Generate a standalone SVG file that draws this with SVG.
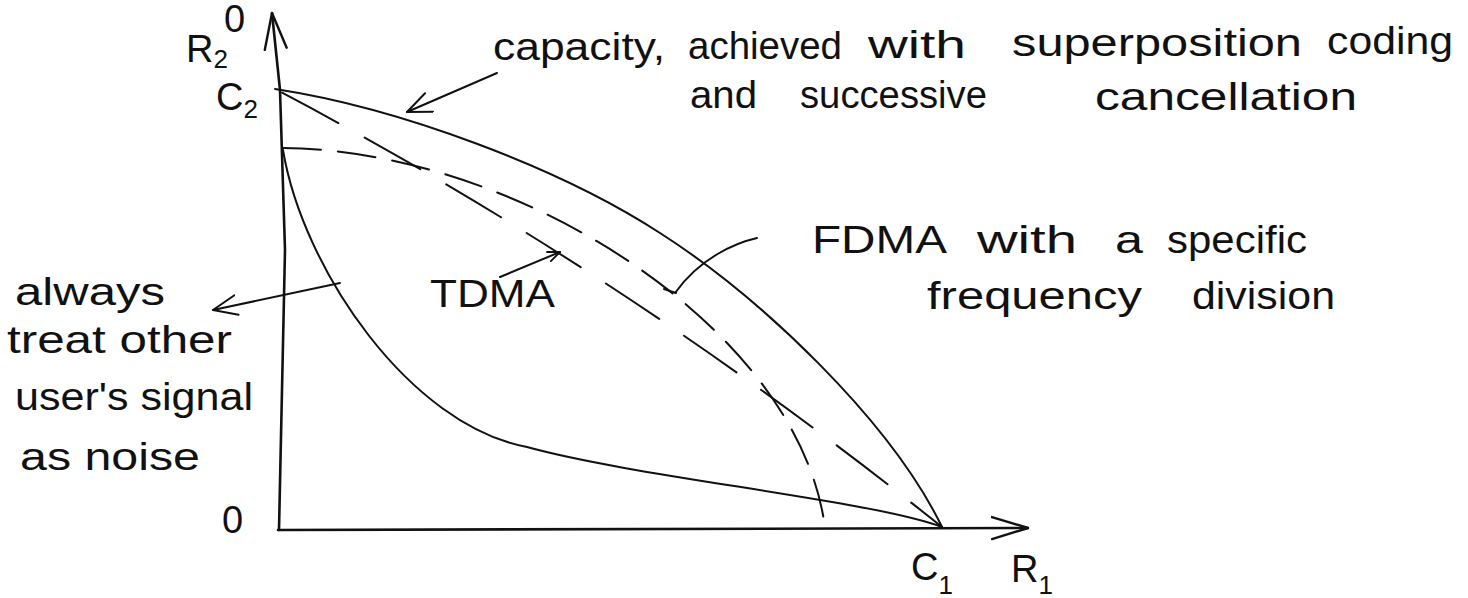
<svg xmlns="http://www.w3.org/2000/svg" width="1468" height="598" viewBox="0 0 1468 598">
<style>
.ln{fill:none;stroke:#111;stroke-width:2;stroke-linecap:round;stroke-linejoin:round}
.ax{fill:none;stroke:#111;stroke-width:2.6;stroke-linecap:round;stroke-linejoin:round}
.da{stroke-dasharray:64 30;stroke-dashoffset:-8}
.db{stroke-dasharray:38 17}
.t{font-family:"Liberation Sans",Arial,sans-serif;font-size:38px;fill:#111}
.s{font-size:26px}
</style>
<defs>
<marker id="axh" markerUnits="userSpaceOnUse" markerWidth="38" markerHeight="26" viewBox="0 0 38 26" refX="37" refY="13" orient="auto"><path d="M1,2 L37,13 L1,24" fill="none" stroke="#111" stroke-width="2.4" stroke-linecap="round" stroke-linejoin="round"/></marker>
<marker id="ah" markerUnits="userSpaceOnUse" markerWidth="26" markerHeight="22" viewBox="0 0 26 22" refX="25" refY="11" orient="auto"><path d="M1,1 L25,11 L1,21" fill="none" stroke="#111" stroke-width="2" stroke-linecap="round" stroke-linejoin="round"/></marker>
<marker id="ahs" markerUnits="userSpaceOnUse" markerWidth="14" markerHeight="12" viewBox="0 0 14 12" refX="13" refY="6" orient="auto"><path d="M1,1 L13,6 L1,11" fill="none" stroke="#111" stroke-width="1.8" stroke-linecap="round" stroke-linejoin="round"/></marker>
</defs>
<rect width="1468" height="598" fill="#fff"/>

<g id="axes">
<path class="ax" d="M279,530 L285,250 L280,90 L272,13" marker-end="url(#axh)"/>
<path class="ax" d="M278,530 L1028,528" marker-end="url(#axh)"/>
<text class="t" x="186" y="62" font-size="42">R<tspan class="s" dy="6">2</tspan></text>
<text class="t" x="224" y="32" font-size="34">0</text>
<text class="t" x="222" y="533">0</text>
<text class="t" x="216" y="110" font-size="40">C<tspan class="s" dy="8">2</tspan></text>
<text class="t" x="911" y="580">C<tspan class="s" dy="14">1</tspan></text>
<text class="t" x="1011" y="582" font-size="44">R<tspan class="s" dy="12">1</tspan></text>
</g>

<g id="capacity-curve">
<path class="ln" d="M275,89 C400,108 560,168 660,233 C760,297 890,420 942,527"/>
</g>
<g id="tdma-line">
<path class="ln da" d="M275,89 Q620,270 942,527"/>
</g>
<g id="fdma-curve">
<path class="ln db" d="M283,148 C520,150 800,330 825,528"/>
</g>
<g id="noise-curve">
<path class="ln" d="M283,150 C303,270 410,425 527,447 C640,478 870,500 942,527"/>
</g>

<g id="connectors">
<path class="ln" d="M497,73 L407,112" marker-end="url(#ah)"/>
<path class="ln" d="M340,283 L213,310" marker-end="url(#ah)"/>
<path class="ln" d="M500,277 L560,252" marker-end="url(#ahs)"/>
<path class="ln" d="M757,238 C735,243 700,258 675,293 M664,289 L676,293"/>
</g>

<g id="label-capacity">
<text class="t" x="493" y="60" textLength="172" lengthAdjust="spacingAndGlyphs">capacity,</text>
<text class="t" x="688" y="59" textLength="154" lengthAdjust="spacingAndGlyphs">achieved</text>
<text class="t" x="868" y="58" textLength="98" lengthAdjust="spacingAndGlyphs">with</text>
<text class="t" x="1012" y="56" textLength="290" lengthAdjust="spacingAndGlyphs">superposition</text>
<text class="t" x="1327" y="54" textLength="126" lengthAdjust="spacingAndGlyphs">coding</text>
<text class="t" x="690" y="108" textLength="67" lengthAdjust="spacingAndGlyphs">and</text>
<text class="t" x="800" y="108" textLength="187" lengthAdjust="spacingAndGlyphs">successive</text>
<text class="t" x="1095" y="110" textLength="262" lengthAdjust="spacingAndGlyphs">cancellation</text>
</g>

<g id="label-fdma">
<text class="t" x="812" y="253" textLength="135" lengthAdjust="spacingAndGlyphs">FDMA</text>
<text class="t" x="977" y="253" textLength="100" lengthAdjust="spacingAndGlyphs">with</text>
<text class="t" x="1115" y="253" textLength="28" lengthAdjust="spacingAndGlyphs">a</text>
<text class="t" x="1167" y="253" textLength="140" lengthAdjust="spacingAndGlyphs">specific</text>
<text class="t" x="927" y="309" textLength="215" lengthAdjust="spacingAndGlyphs">frequency</text>
<text class="t" x="1192" y="309" textLength="143" lengthAdjust="spacingAndGlyphs">division</text>
</g>

<g id="label-tdma">
<text class="t" x="430" y="307" font-size="40" textLength="125" lengthAdjust="spacingAndGlyphs">TDMA</text>
</g>

<g id="label-noise">
<text class="t" x="15" y="305" textLength="150" lengthAdjust="spacingAndGlyphs">always</text>
<text class="t" x="7" y="353" textLength="225" lengthAdjust="spacingAndGlyphs">treat other</text>
<text class="t" x="15" y="410" textLength="238" lengthAdjust="spacingAndGlyphs">user's signal</text>
<text class="t" x="20" y="470" textLength="180" lengthAdjust="spacingAndGlyphs">as noise</text>
</g>
</svg>
